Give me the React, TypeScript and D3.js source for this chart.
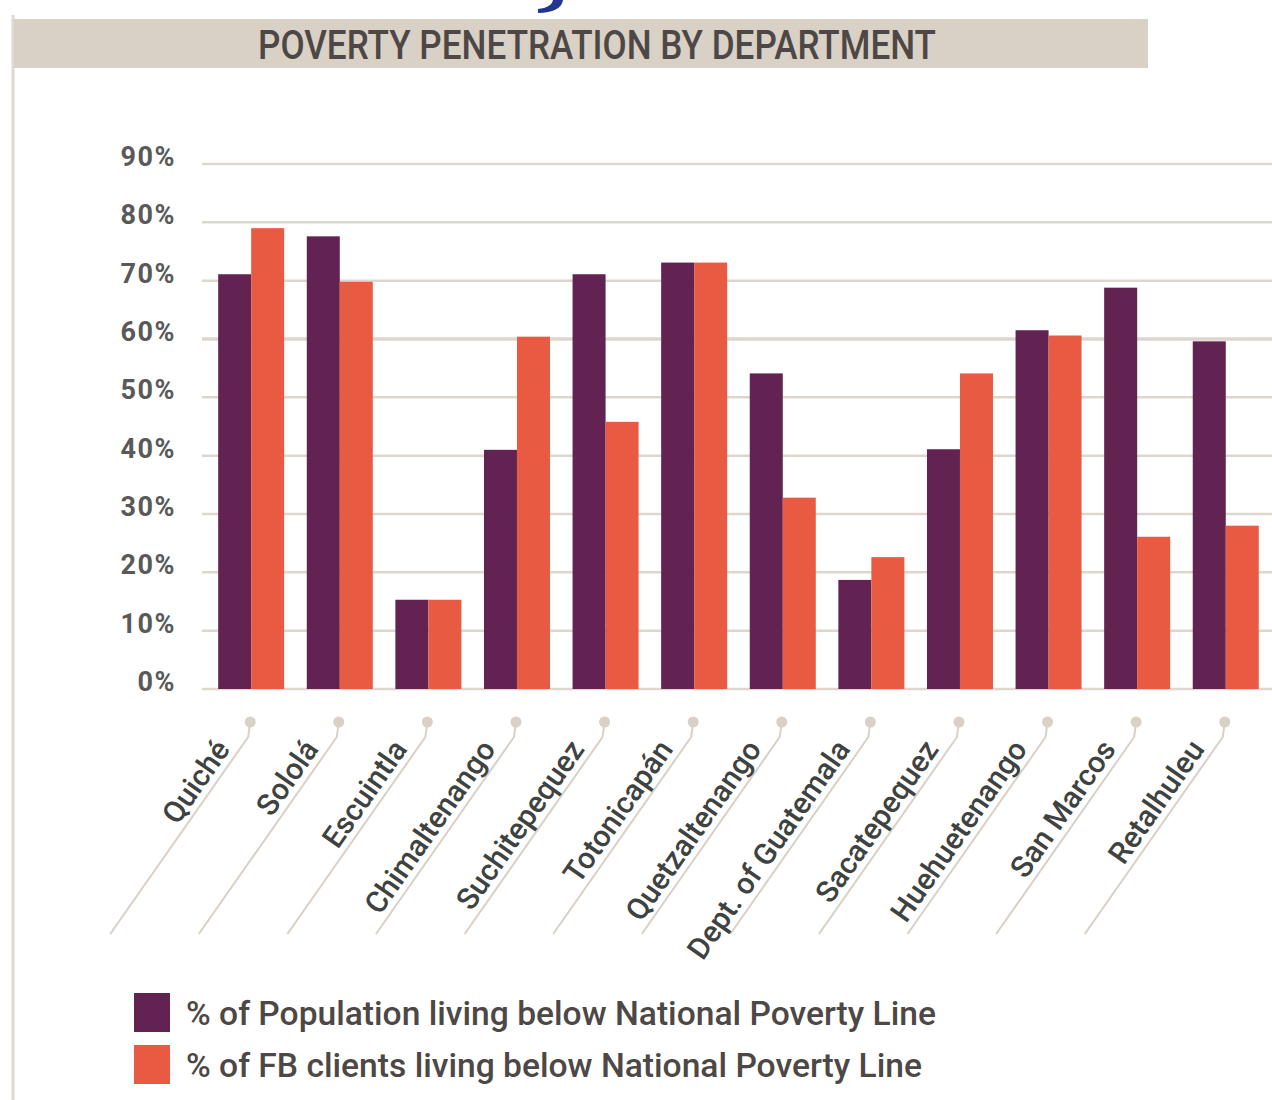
import React from "react";
import * as d3 from "d3";

const departments = [
  "Quiché", "Sololá", "Escuintla", "Chimaltenango", "Suchitepequez", "Totonicapán",
  "Quetzaltenango", "Dept. of Guatemala", "Sacatepequez", "Huehuetenango", "San Marcos", "Retalhuleu",
];
const populationBelowLine = [71.1, 77.6, 15.3, 41.0, 71.1, 73.1, 54.1, 18.7, 41.1, 61.5, 68.8, 59.6];
const fbClientsBelowLine = [79.0, 69.8, 15.3, 60.4, 45.8, 73.1, 32.8, 22.6, 54.1, 60.6, 26.1, 28.0];
const yTicks = [0, 10, 20, 30, 40, 50, 60, 70, 80, 90];
const seriesNames = [
  "% of Population living below National Poverty Line",
  "% of FB clients living below National Poverty Line",
];
const title = "POVERTY PENETRATION BY DEPARTMENT";

const PURPLE = "#622252";
const ORANGE = "#e85a42";
const BEIGE = "#d9d0c6";
const GRID = "#ddd6cd";

export default function App() {
  const x = d3.scaleBand<string>().domain(departments).range([202, 1272]).paddingInner(0.255).paddingOuter(0.166).align(0.55);
  const xs = d3.scaleBand<number>().domain([0, 1]).range([0, x.bandwidth()]);
  const y = d3.scaleLinear().domain([0, 90]).range([689, 164]);
  const series = [populationBelowLine, fbClientsBelowLine];
  const colors = [PURPLE, ORANGE];

  return (
    <div style={{ position: "absolute", left: 0, top: 0 }}>
      <svg width={1272} height={1100} style={{ display: "block", background: "#fff" }}>
        {/* cut-off glyph at top */}
        <path d="M553,0 L563,0 C562,8 553,13 538,13 L538,9 C547,8 552,5 553,0 Z" fill="#22368f" />
        {/* left frame line */}
        <line x1={13} x2={13} y1={15} y2={1100} stroke="#e0d9d1" strokeWidth={3} />
        {/* title bar */}
        <rect x={14} y={19} width={1134} height={49} fill={BEIGE} />
        <text x={597} y={59} textAnchor="middle" fontFamily="Roboto" fontWeight={500} fontSize={40}
          fill="#4d4745" textLength={678} lengthAdjust="spacingAndGlyphs">{title}</text>

        {/* gridlines */}
        {yTicks.map((t) => (
          <line key={"g" + t} x1={202} x2={1272} y1={y(t)} y2={y(t)} stroke={GRID}
            strokeWidth={t === 60 ? 3.5 : 2.5} />
        ))}
        {yTicks.map((t) => (
          <text key={"yl" + t} x={176} y={y(t) + 2} textAnchor="end" fontFamily="Roboto" fontWeight={700}
            fontSize={27} fill="#595959" letterSpacing={1.5}>{t + "%"}</text>
        ))}

        {/* bars */}
        {departments.map((d, i) => (
          <g key={"b" + d} transform={`translate(${x(d)},0)`}>
            {series.map((s, j) => (
              <rect key={j} x={xs(j)} y={y(s[i])} width={xs.bandwidth()} height={y(0) - y(s[i])} fill={colors[j]} />
            ))}
          </g>
        ))}

        {/* category leaders & labels */}
        {departments.map((d) => {
          const cx = (x(d) as number) + x.bandwidth() / 2 - 1;
          return (
            <g key={"l" + d}>
              <circle cx={cx} cy={722} r={5.5} fill={BEIGE} />
              <path d={`M${cx},${722} L${cx - 2},${737} L${cx - 140},${934}`} fill="none" stroke={BEIGE} strokeWidth={2} />
              <g transform={`translate(${cx - 2},737) rotate(-55)`}>
                <text x={-20} y={-7} textAnchor="end" fontFamily="Roboto" fontWeight={500} fontSize={30}
                  fill="#3e4240">{d}</text>
              </g>
            </g>
          );
        })}

        {/* legend */}
        {seriesNames.map((n, j) => (
          <g key={"lg" + j} transform={`translate(134,${993 + j * 52})`}>
            <rect x={0} y={0} width={36} height={39} fill={colors[j]} />
            <text x={52} y={32} fontFamily="Roboto" fontWeight={500} fontSize={33} fill="#4d4745"
              textLength={j === 0 ? 750 : 736} lengthAdjust="spacingAndGlyphs">{n}</text>
          </g>
        ))}
      </svg>
    </div>
  );
}
